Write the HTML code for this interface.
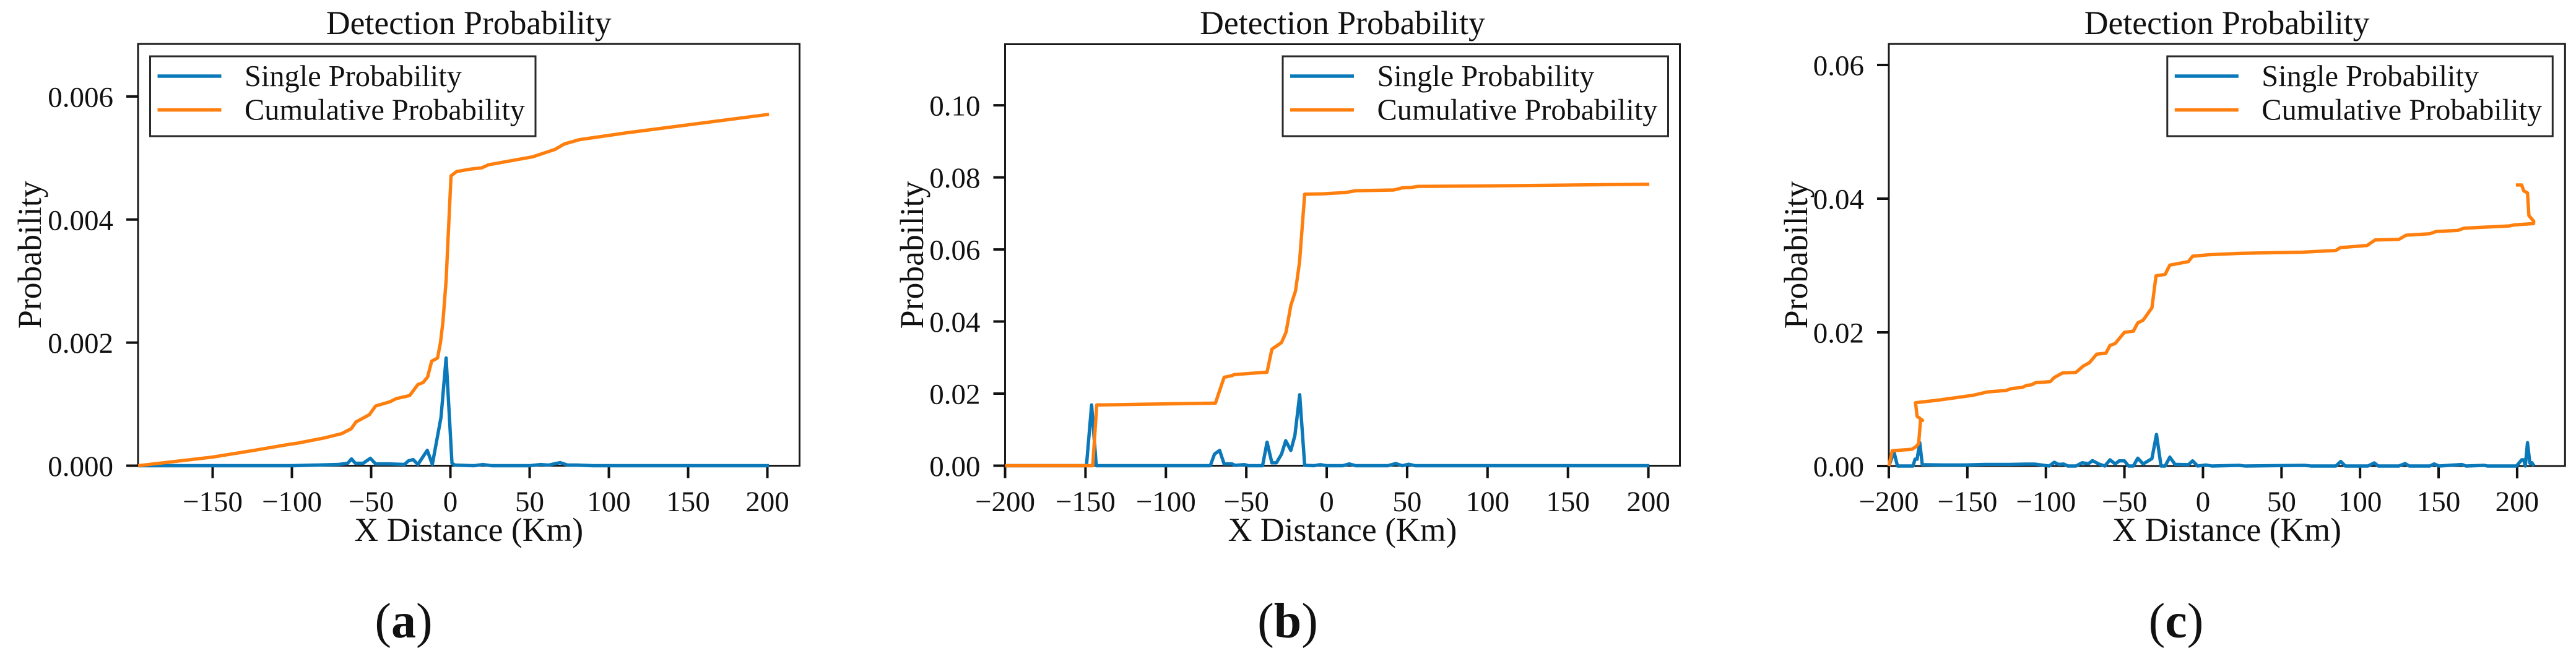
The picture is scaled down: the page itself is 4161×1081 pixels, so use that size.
<!DOCTYPE html>
<html lang="en">
<head>
<meta charset="utf-8">
<title>Detection Probability</title>
<style>
html,body{margin:0;padding:0;background:#fff;width:4161px;height:1081px;overflow:hidden}
svg{display:block}
text{font-family:"Liberation Serif","Times New Roman",serif;fill:#111}
</style>
</head>
<body>
<svg id="figure" xmlns="http://www.w3.org/2000/svg" width="4161" height="1081" viewBox="0 0 4161 1081"></svg>
<script>
const xTicksA = [-150, -100, -50, 0, 50, 100, 150, 200];
const xTickLabelsA = ["\u2212150", "\u2212100", "\u221250", "0", "50", "100", "150", "200"];
const yTicksA = [0, 0.002, 0.004, 0.006];
const yTickLabelsA = ["0.000", "0.002", "0.004", "0.006"];
const singleXA = [-197, -100, -70.6, -64.8, -62.4, -60, -55, -50.5, -47.2, -38.8, -29, -26.4, -23.5, -20.5, -14.6, -11.4, -5.9, -2.7, 1, 2.9, 15, 20.5, 26, 50, 57, 62, 69.3, 74, 80, 90, 201];
const singleYA = [0, 0, 0.00002, 0.00004, 0.00011, 0.00004, 0.00004, 0.00012, 0.00003, 0.00003, 0.00002, 0.00008, 0.0001, 0.00002, 0.00025, 0.00002, 0.00079, 0.00175, 0.00004, 0.00001, 0, 0.00002, 0, 0, 0.00002, 0.00001, 0.00005, 0.00001, 0.00001, 0, 0];
const cumulativeXA = [-197, -150, -123.7, -101, -96.7, -79.8, -68.7, -62.6, -59.6, -51.1, -47.2, -38, -34.2, -25.7, -20.5, -17.3, -14.4, -11.8, -8.1, -6.2, -4.7, -2.7, 0.4, 3.9, 12.7, 19.7, 24.1, 52, 66, 72, 81.7, 111.3, 201];
const cumulativeYA = [0, 0.00014, 0.00025, 0.00035, 0.000365, 0.00045, 0.00052, 0.0006, 0.00071, 0.00083, 0.00097, 0.00104, 0.00109, 0.00114, 0.00132, 0.00135, 0.00144, 0.0017, 0.00175, 0.00201, 0.00234, 0.00301, 0.00471, 0.00478, 0.00482, 0.00484, 0.00489, 0.00502, 0.00514, 0.00523, 0.0053, 0.00541, 0.00571];

const xTicksB = [-200, -150, -100, -50, 0, 50, 100, 150, 200];
const xTickLabelsB = ["\u2212200", "\u2212150", "\u2212100", "\u221250", "0", "50", "100", "150", "200"];
const yTicksB = [0, 0.02, 0.04, 0.06, 0.08, 0.1];
const yTickLabelsB = ["0.00", "0.02", "0.04", "0.06", "0.08", "0.10"];
const singleXB = [-200, -149.4, -146.2, -143.3, -72.4, -69.8, -66.6, -63.8, -58.9, -57, -51.2, -48.6, -39.9, -37.1, -34.1, -31.3, -28.1, -25.5, -22.3, -19.8, -16.8, -13.7, -8, -4, 0, 10, 14, 18, 38, 43, 47, 51, 55, 200.6];
const singleYB = [0, 0, 0.01685, 0, 0, 0.0032, 0.00424, 0.0005, 0.0005, 0.0001, 0.0003, 0, 0, 0.00653, 0.0008, 0.0008, 0.0032, 0.00693, 0.00424, 0.00837, 0.0197, 0.0001, 0, 0.0003, 0, 0, 0.0005, 0, 0, 0.0006, 0, 0.0004, 0, 0];
const cumulativeXB = [-200, -145.5, -143, -69.2, -63.8, -58.9, -57.6, -37.1, -34.1, -28.1, -25.3, -22.3, -19.4, -16.9, -13.7, -2.4, 11.7, 18, 41.6, 47, 52.6, 56.5, 93.4, 200.6];
const cumulativeYB = [0, 0, 0.01685, 0.01737, 0.02454, 0.02499, 0.02528, 0.02597, 0.03233, 0.03417, 0.03703, 0.04449, 0.0485, 0.05652, 0.07532, 0.07544, 0.0758, 0.0763, 0.0765, 0.0771, 0.0772, 0.0775, 0.0776, 0.0781];

const xTicksC = [-200, -150, -100, -50, 0, 50, 100, 150, 200];
const xTickLabelsC = ["\u2212200", "\u2212150", "\u2212100", "\u221250", "0", "50", "100", "150", "200"];
const yTicksC = [0, 0.02, 0.04, 0.06];
const yTickLabelsC = ["0.00", "0.02", "0.04", "0.06"];
const singleXC = [-200, -196.7, -194.5, -184.6, -183.3, -182, -180.3, -178.7, -166.2, -151.8, -138.6, -122.9, -113, -107.1, -97.9, -94.7, -92, -88.7, -86, -80.9, -76.9, -73, -70.3, -66.4, -62.5, -59.2, -55.9, -53.3, -50, -47.4, -44.3, -41.5, -38.1, -32.5, -29.6, -26.7, -24.1, -21.1, -17.8, -9.3, -6.6, -3.4, 1.8, 5.7, 22.9, 26.8, 64.8, 68.8, 84.6, 87.7, 90.6, 105, 109, 111.6, 124.7, 128.7, 131.3, 144.4, 147.1, 150.3, 164.8, 167.4, 179.1, 181, 199.6, 202.9, 204.2, 205.2, 206.6, 208.1, 209.4, 210.8];
const singleYC = [0, 0.0021, 0, 0, 0.00102, 0.00102, 0.00349, 0.0002, 0.00015, 0.00015, 0.00024, 0.00024, 0.00028, 0.00028, 0, 0.00056, 0.00024, 0.0003, 0, 0, 0.00049, 0.00034, 0.0008, 0.00031, 0, 0.00093, 0.00031, 0.00077, 0.00077, 0, 0, 0.00117, 0.00031, 0.00111, 0.00472, 0, 0, 0.00133, 0.00025, 0.0002, 0.00077, 0, 0.00015, 0, 0.0001, 0, 0.0001, 0, 0, 0.00068, 0, 0, 0.00046, 0, 0, 0.00037, 0, 0, 0.00031, 0, 0.00023, 0, 0.0001, 0, 0, 0.00093, 0.00093, 0, 0.00349, 0.00043, 0.00049, 0];
const cumulativeXC = [-200, -197.8, -185.3, -182.7, -181, -179.8, -178.5, -182, -183, -168.9, -146.5, -137.3, -125.5, -121.6, -115, -112.4, -109.1, -106.5, -97.3, -94.7, -89.4, -80.9, -76.3, -72.3, -67.7, -61.8, -59.2, -55.9, -50, -44.3, -41.5, -38.1, -32.5, -29.9, -24.1, -21.1, -9.3, -6.6, 3.2, 24.2, 63.6, 84.6, 87.5, 104.4, 109.6, 124.7, 129.3, 144.4, 148.4, 162.2, 166.1, 195, 198.3, 210.5, 210.5, 207.5, 206.6, 204.2, 202.9, 199.2];
const cumulativeYC = [0, 0.00229, 0.0025, 0.0029, 0.00336, 0.00692, 0.00682, 0.00744, 0.00947, 0.00984, 0.01058, 0.01108, 0.0113, 0.0116, 0.01176, 0.01206, 0.01216, 0.01247, 0.01262, 0.01324, 0.01392, 0.01401, 0.01494, 0.01546, 0.01673, 0.01688, 0.01803, 0.01833, 0.02, 0.02018, 0.02142, 0.02182, 0.02367, 0.02845, 0.02867, 0.03006, 0.03058, 0.03139, 0.0316, 0.03182, 0.032, 0.03225, 0.03268, 0.03299, 0.03382, 0.03391, 0.03453, 0.03475, 0.03509, 0.03525, 0.03558, 0.03592, 0.03608, 0.03627, 0.03664, 0.03747, 0.04086, 0.04117, 0.04204, 0.04204];

const titleText = "Detection Probability";
const xLabelText = "X Distance (Km)";
const yLabelText = "Probability";
const legendLabels = ["Single Probability", "Cumulative Probability"];
const BLUE = "#0a78b9";
const ORANGE = "#ff7f0e";
const INK = "#1a1a1a";
const NS = "http://www.w3.org/2000/svg";
const figure = document.getElementById("figure");

function make(parent, tag, attrs) {
  const el = document.createElementNS(NS, tag);
  for (const k in attrs) el.setAttribute(k, attrs[k]);
  parent.appendChild(el);
  return el;
}

function drawPanel(p) {
  const sx = v => p.left + (v - p.xMin) / (p.xMax - p.xMin) * (p.right - p.left);
  const sy = v => p.bottom - (v - p.yMin) / (p.yMax - p.yMin) * (p.bottom - p.top);
  const g = make(figure, "g", {});
  
  

  const frame = make(g, "rect", {x: p.left, y: p.top, width: p.right - p.left, height: p.bottom - p.top, fill: "#fff", stroke: INK, "stroke-width": 3});
  
  

  const title = make(g, "text", {x: (p.left + p.right) / 2, y: 55, "text-anchor": "middle", "font-size": 53.7});
  title.textContent = titleText;
  
  

  p.xTicks.forEach((t, i) => {
    const tick = make(g, "line", {x1: sx(t), x2: sx(t), y1: p.bottom, y2: p.bottom + 20, stroke: "#111", "stroke-width": 4});
    
    
    const lab = make(g, "text", {x: sx(t), y: 826, "text-anchor": "middle", "font-size": 47});
    lab.textContent = p.xTickLabels[i];
    
    
  });

  p.yTicks.forEach((t, i) => {
    const tick = make(g, "line", {x1: p.left - 19, x2: p.left, y1: sy(t), y2: sy(t), stroke: "#111", "stroke-width": 4});
    
    
    const lab = make(g, "text", {x: p.left - 40, y: sy(t) + 16.5, "text-anchor": "end", "font-size": 47});
    lab.textContent = p.yTickLabels[i];
    
    
  });

  const xLabel = make(g, "text", {x: (p.left + p.right) / 2, y: 874, "text-anchor": "middle", "font-size": 53.7});
  xLabel.textContent = xLabelText;
  
  

  const cy = (p.top + p.bottom) / 2;
  const yLabel = make(g, "text", {x: 0, y: 0, "text-anchor": "middle", "font-size": 53.7, transform: "translate(" + p.yLabelX + "," + cy + ") rotate(-90)"});
  yLabel.textContent = yLabelText;
  
  

  const path = (xs, ys) => xs.map((x, i) => (i ? "L" : "M") + sx(x).toFixed(2) + " " + sy(ys[i]).toFixed(2)).join("");

  const single = make(g, "path", {d: path(p.singleX, p.singleY), fill: "none", stroke: BLUE, "stroke-width": 5.4, "stroke-linejoin": "round"});
  
  

  const cumulative = make(g, "path", {d: path(p.cumulativeX, p.cumulativeY), fill: "none", stroke: ORANGE, "stroke-width": 5.4, "stroke-linejoin": "round"});
  
  

  const legend = make(g, "g", {});
  
  
  const lx = p.legendLeft;
  const box = make(legend, "rect", {x: lx, y: 91, width: 622.5, height: 129, fill: "#fff", stroke: "#2a2a2a", "stroke-width": 3});
  
  
  [BLUE, ORANGE].forEach((c, i) => {
    const y = 123 + i * 54.7;
    const swatch = make(legend, "line", {x1: lx + 12, x2: lx + 115, y1: y, y2: y, stroke: c, "stroke-width": 5.4});
    
    
    const txt = make(legend, "text", {x: lx + 152.5, y: y + 16, "font-size": 48.4});
    txt.textContent = legendLabels[i];
    
    
  });

  const cap = make(g, "text", {x: p.capX, y: 1030, "text-anchor": "middle", "font-size": 80});
  const open = make(cap, "tspan", {});
  open.textContent = "(";
  const letter = make(cap, "tspan", {"font-weight": "bold"});
  letter.textContent = p.id;
  const close = make(cap, "tspan", {});
  close.textContent = ")";
  
  
}

drawPanel({id: "a", left: 223, right: 1291.5, top: 71, bottom: 752.5, xMin: -197.07, xMax: 220.3, yMin: 0, yMax: 0.006854, xTicks: xTicksA, xTickLabels: xTickLabelsA, yTicks: yTicksA, yTickLabels: yTickLabelsA, singleX: singleXA, singleY: singleYA, cumulativeX: cumulativeXA, cumulativeY: cumulativeYA, legendLeft: 242.5, yLabelX: 66, capX: 652});
drawPanel({id: "b", left: 1623.5, right: 2713.5, top: 71.5, bottom: 752.5, xMin: -200, xMax: 219.6, yMin: 0, yMax: 0.11694, xTicks: xTicksB, xTickLabels: xTickLabelsB, yTicks: yTicksB, yTickLabels: yTickLabelsB, singleX: singleXB, singleY: singleYB, cumulativeX: cumulativeXB, cumulativeY: cumulativeYB, legendLeft: 2072, yLabelX: 1491, capX: 2080});
drawPanel({id: "c", left: 3051, right: 4143.3, top: 71, bottom: 753, xMin: -200, xMax: 230.5, yMin: 0, yMax: 0.06315, xTicks: xTicksC, xTickLabels: xTickLabelsC, yTicks: yTicksC, yTickLabels: yTickLabelsC, singleX: singleXC, singleY: singleYC, cumulativeX: cumulativeXC, cumulativeY: cumulativeYC, legendLeft: 3500.8, yLabelX: 2919, capX: 3515});
</script>
</body>
</html>
